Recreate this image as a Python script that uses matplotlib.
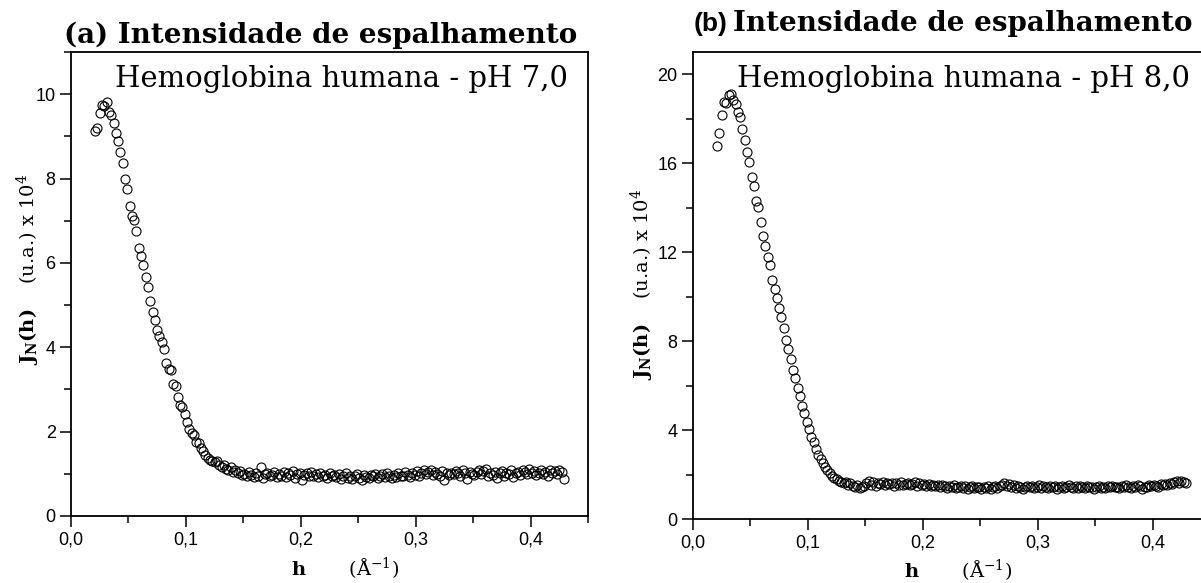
import numpy as np
import matplotlib
matplotlib.use('Agg')
import matplotlib.pyplot as plt
from matplotlib.ticker import MultipleLocator, FuncFormatter

plt.rcParams['mathtext.fontset'] = 'dejavuserif'

# scattering vector grid (same for both samples)
h = np.arange(205) * 0.002 + 0.021

# pH 7,0 -- J_N(h) in units of 10^4
j_ph7 = [
    9.13, 9.20, 9.56, 9.74, 9.72, 9.82, 9.58, 9.50, 9.32, 9.09,
    8.89, 8.62, 8.37, 8.00, 7.75, 7.35, 7.11, 7.01, 6.76, 6.36,
    6.17, 5.94, 5.67, 5.42, 5.10, 4.84, 4.64, 4.42, 4.27, 4.13,
    3.96, 3.62, 3.48, 3.45, 3.13, 3.08, 2.83, 2.63, 2.58, 2.42,
    2.24, 2.06, 1.96, 1.92, 1.76, 1.72, 1.62, 1.55, 1.45, 1.38,
    1.33, 1.30, 1.28, 1.31, 1.22, 1.17, 1.20, 1.12, 1.10, 1.15,
    1.05, 1.08, 1.02, 1.06, 0.98,
    1.00, 0.95, 1.04, 0.97, 0.92, 1.01, 0.96, 1.17, 0.90, 0.99,
    1.03, 0.94, 0.98, 1.05, 0.92, 1.00, 0.96, 1.04, 0.93, 1.02,
    0.97, 1.06, 0.91, 0.99, 1.03, 0.86, 0.98, 1.01, 0.94, 1.05,
    0.96, 1.00, 0.92, 1.03, 0.95, 0.98, 0.90, 1.02, 0.94, 0.97,
    0.92, 0.99, 0.87, 0.95, 1.01, 0.90, 0.96, 0.88, 0.94, 0.99,
    0.91, 0.86, 0.97, 0.93, 0.89, 0.98, 0.94, 1.00, 0.90, 0.96,
    0.99, 0.93, 1.01, 0.95, 0.89, 0.97, 0.92, 1.02, 0.96, 0.94,
    1.04, 0.97, 0.93, 1.01, 0.98, 1.06, 0.95, 1.03, 1.08, 1.00,
    1.05, 1.09, 0.98, 1.04, 1.00, 0.95, 1.07, 0.86, 1.02, 0.97,
    1.03, 0.99, 1.06, 1.01, 0.94, 1.08, 1.03, 0.88, 1.05, 1.00,
    0.97, 1.04, 1.09, 0.99, 1.06, 1.12, 0.95, 1.02, 0.98, 1.05,
    0.89, 1.01, 1.07, 0.96, 1.03, 0.99, 1.08, 0.93, 1.02, 1.05,
    0.98, 1.10, 1.04, 0.99, 1.12, 1.01, 1.06, 0.97, 1.03, 1.08,
    1.00, 1.05, 0.96, 1.09, 1.02, 1.07, 0.99, 1.10, 1.04, 0.87,
]

# pH 8,0 -- J_N(h) in units of 10^4
j_ph8 = [
    16.78, 17.37, 18.17, 18.73, 18.70, 19.05, 19.11, 18.85, 18.65, 18.28,
    18.07, 17.53, 17.04, 16.51, 16.06, 15.38, 14.97, 14.29, 14.03, 13.36,
    12.71, 12.28, 11.76, 11.41, 10.74, 10.35, 9.95, 9.50, 9.10, 8.60,
    8.05, 7.65, 7.20, 6.70, 6.35, 5.90, 5.55, 5.10, 4.75, 4.35,
    4.05, 3.70, 3.45, 3.15, 2.90, 2.70, 2.50, 2.35, 2.20, 2.05,
    1.95, 1.85, 1.80, 1.72, 1.68, 1.62, 1.65, 1.55, 1.60, 1.50,
    1.45, 1.52, 1.38, 1.42, 1.48,
    1.62, 1.72, 1.55, 1.68, 1.50, 1.63, 1.58, 1.66, 1.52, 1.60,
    1.57, 1.64, 1.50, 1.61, 1.55, 1.67, 1.53, 1.59, 1.62, 1.51,
    1.58, 1.65, 1.49, 1.60, 1.54, 1.57, 1.50, 1.56, 1.47, 1.53,
    1.50, 1.55, 1.44, 1.52, 1.47, 1.40, 1.49, 1.43, 1.51, 1.38,
    1.45, 1.50, 1.41, 1.47, 1.36, 1.44, 1.49, 1.39, 1.46, 1.42,
    1.37, 1.45, 1.40, 1.48, 1.35, 1.43, 1.47, 1.41, 1.50, 1.55,
    1.62, 1.48, 1.56, 1.44, 1.51, 1.40, 1.47, 1.43, 1.36, 1.45,
    1.50, 1.42, 1.48, 1.38, 1.46, 1.52, 1.41, 1.49, 1.44, 1.39,
    1.47, 1.42, 1.50, 1.37, 1.45, 1.49, 1.40, 1.46, 1.52, 1.43,
    1.38, 1.47, 1.41, 1.50, 1.44, 1.39, 1.48, 1.42, 1.46, 1.36,
    1.43, 1.49, 1.40, 1.45, 1.38, 1.47, 1.42, 1.50, 1.44, 1.46,
    1.41, 1.48, 1.43, 1.51, 1.45, 1.40, 1.49, 1.44, 1.52, 1.47,
    1.35, 1.46, 1.42, 1.53, 1.48, 1.55, 1.50, 1.45, 1.57, 1.52,
    1.58, 1.54, 1.62, 1.56, 1.65, 1.70, 1.63, 1.72, 1.66, 1.60,
]

W, H = 1201, 583
fig = plt.figure(figsize=(W / 100, H / 100), dpi=100)

serif = 'DejaVu Serif'
comma = FuncFormatter(lambda v, p: ('%g' % v).replace('.', ','))
comma1 = FuncFormatter(lambda v, p: ('%.1f' % v).replace('.', ','))


def style_axes(ax, ymax, ymaj):
    ax.set_xlim(0, 0.45)
    ax.set_ylim(0, ymax)
    ax.xaxis.set_major_locator(MultipleLocator(0.1))
    ax.xaxis.set_minor_locator(MultipleLocator(0.05))
    ax.yaxis.set_major_locator(MultipleLocator(ymaj))
    ax.yaxis.set_minor_locator(MultipleLocator(ymaj / 2))
    ax.xaxis.set_major_formatter(comma1)
    ax.yaxis.set_major_formatter(comma)
    ax.tick_params(which='major', direction='out', length=8, width=1.1,
                   labelsize=13, pad=3)
    ax.tick_params(which='minor', direction='out', length=5, width=1.1)
    for lab in ax.get_xticklabels() + ax.get_yticklabels():
        lab.set_family('Liberation Sans')
    for s in ax.spines.values():
        s.set_linewidth(1.3)


def px(x, y):
    return x / W, 1 - y / H


ax_a = fig.add_axes([71 / W, 67 / H, 517 / W, 464 / H])
ax_b = fig.add_axes([693 / W, 64 / H, 517 / W, 467 / H])

ax_a.plot(h, j_ph7, 'o', mfc='none', mec='black', ms=6.5, mew=0.8)
ax_b.plot(h, j_ph8, 'o', mfc='none', mec='black', ms=6.5, mew=0.8)
style_axes(ax_a, 11, 2)
style_axes(ax_b, 21, 4)

fig.text(*px(115, 87), 'Hemoglobina humana - pH 7,0', family=serif,
         fontsize=21, va='baseline')
fig.text(*px(737, 87), 'Hemoglobina humana - pH 8,0', family=serif,
         fontsize=21, va='baseline')

# panel titles
fig.text(*px(64, 43), '(a) Intensidade de espalhamento', family=serif,
         weight='bold', fontsize=20, va='baseline')
fig.text(*px(694, 31), '(b)', family='Liberation Sans', weight='bold',
         fontsize=19, va='baseline')
fig.text(*px(733, 31), 'Intensidade de espalhamento', family=serif,
         weight='bold', fontsize=20, va='baseline')

ylab = r'$\mathbf{J}_{\mathbf{N}}\mathbf{(h)}$    (u.a.) x 10$^{4}$'
fig.text(*px(28, 269), ylab, family=serif, fontsize=14, rotation=90,
         ha='center', va='center')
fig.text(*px(642, 284), ylab, family=serif, fontsize=14, rotation=90,
         ha='center', va='center')

xlab = r'$\mathbf{h}$       (Å$^{-1}$)'
fig.text(*px(345, 568), xlab, family=serif, fontsize=14, ha='center',
         va='center')
fig.text(*px(958, 570), xlab, family=serif, fontsize=14, ha='center',
         va='center')

fig.savefig('out.png', dpi=100)
